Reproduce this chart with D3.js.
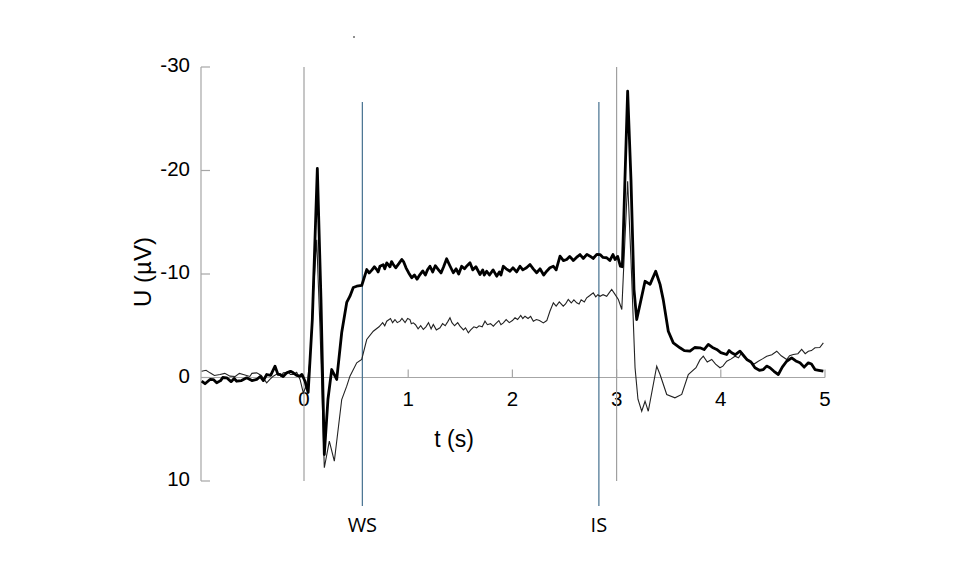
<!DOCTYPE html>
<html>
<head>
<meta charset="utf-8">
<script src="https://cdn.jsdelivr.net/npm/d3@7"></script>
<style>
  body { margin: 0; background: #fff; }
  text { font-family: "Liberation Sans", Arial, sans-serif; fill: #000; }
  .mark { font-family: "Open Sans", "Noto Sans", sans-serif; }
</style>
</head>
<body>
<svg width="958" height="577"></svg>
<script>

// thick trace: time (s) and voltage (uV)
// (the second half of each array holds the small wiggles in between, sorted by time before drawing)
var thickT = [-0.982, -0.902, -0.838, -0.742, -0.646, -0.550, -0.454, -0.358, -0.278, -0.230, -0.166, -0.103, -0.038,
  0.010, 0.040, 0.080, 0.128, 0.163, 0.195, 0.230, 0.266, 0.314, 0.362, 0.410, 0.441, 0.473, 0.506, 0.554, 0.602,
  0.653, 0.698, 0.729, 0.794, 0.857, 0.938, 0.979, 1.034, 1.113, 1.209, 1.289, 1.369, 1.433, 1.513, 1.593, 1.689,
  1.753, 1.849, 1.913, 1.977, 2.073, 2.169, 2.233, 2.329, 2.393, 2.457, 2.521, 2.649, 2.745, 2.841, 2.905, 2.965,
  3.036, 3.055, 3.080, 3.106, 3.138, 3.167, 3.193, 3.234, 3.273, 3.321, 3.375, 3.417, 3.448, 3.496, 3.544, 3.608,
  3.704, 3.800, 3.880, 3.961, 4.056, 4.104, 4.184, 4.249, 4.328, 4.408, 4.472, 4.552, 4.632, 4.680, 4.760, 4.840,
  4.904, 4.984,
  -0.95, -0.87, -0.80, -0.78, -0.70, -0.67, -0.60, -0.50, -0.42, -0.39, -0.32, -0.25, -0.20, -0.13, -0.07, -0.02,
  0.625, 0.675, 0.712, 0.760, 0.775, 0.825, 0.840, 0.880, 0.910, 0.955, 1.005, 1.060, 1.085, 1.140, 1.165, 1.185,
  1.235, 1.260, 1.315, 1.340, 1.400, 1.460, 1.485, 1.540, 1.565, 1.620, 1.650, 1.715, 1.730, 1.780, 1.815, 1.875,
  1.890, 1.940, 2.005, 2.040, 2.100, 2.135, 2.200, 2.265, 2.300, 2.360, 2.420, 2.490, 2.550, 2.585, 2.615, 2.680,
  2.715, 2.775, 2.810, 2.870, 2.935, 2.985, 3.010,
  3.65, 3.75, 3.84, 3.92, 4.00, 4.08, 4.14, 4.22, 4.29, 4.37, 4.44, 4.51, 4.59, 4.72, 4.80, 4.87, 4.94];
var thickU = [0.36, 0.19, 0.51, 0.03, 0.36, 0.03, 0.19, -0.29, -1.09, -0.29, -0.45, -0.45, -0.13,
  0.36, 1.45, -5.6, -20.2, -7.5, 7.44, 2.1, -0.77, 0.19, -4.35, -7.25, -7.86, -8.7, -8.82, -8.89, -10.43,
  -10.4, -10.43, -10.75, -11.08, -10.92, -11.4, -10.6, -9.63, -9.95, -10.75, -10.43, -11.47, -10.12, -10.75, -11.08, -9.95,
  -10.27, -9.79, -10.75, -10.27, -10.75, -10.92, -10.12, -10.27, -10.75, -11.72, -11.4, -11.88, -11.72, -11.88, -11.57, -11.88,
  -10.75, -10.7, -19.1, -27.66, -19.1, -8.5, -5.6, -7.5, -9.3, -9.0, -10.27, -9.0, -7.5, -4.47, -3.35, -2.87,
  -2.54, -2.87, -3.19, -2.71, -2.22, -2.39, -2.54, -1.74, -0.94, -0.77, -0.94, -0.29, -1.57, -1.90, -1.42, -1.42,
  -0.77, -0.61,
  0.6, 0.2, 0.3, 0.0, 0.4, 0.1, 0.3, 0.3, -0.1, 0.3, -0.2, -0.3, -0.1, -0.6, -0.2, -0.3,
  -10.1, -10.7, -10.2, -10.9, -10.5, -10.7, -11.2, -10.6, -11.0, -11.2, -10.1, -9.9, -9.5, -10.3, -9.9, -10.4,
  -10.2, -10.8, -10.1, -10.7, -10.8, -10.5, -10.0, -10.5, -10.8, -10.4, -10.7, -10.4, -9.9, -9.9, -10.4, -10.2,
  -9.9, -10.5, -10.6, -10.2, -10.4, -10.6, -10.5, -10.5, -9.9, -10.6, -10.4, -11.3, -11.7, -11.3, -11.6, -11.5,
  -11.9, -11.5, -11.9, -11.6, -11.3, -11.4, -11.7,
  -2.6, -2.9, -2.7, -2.9, -2.4, -2.6, -2.2, -2.1, -1.5, -0.7, -1.1, -0.6, -1.0, -1.6, -1.0, -1.3, -0.7];

// thin trace
var thinT = [-0.982, -0.902, -0.806, -0.710, -0.583, -0.454, -0.358, -0.295, -0.199, -0.103, -0.038, -0.007,
  0.029, 0.058, 0.086, 0.122, 0.154, 0.195, 0.243, 0.291, 0.362, 0.410, 0.441, 0.506, 0.554, 0.602, 0.665, 0.720,
  0.794, 0.873, 0.921, 1.017, 1.049, 1.145, 1.241, 1.305, 1.401, 1.497, 1.577, 1.657, 1.737, 1.817, 1.913, 2.025,
  2.121, 2.201, 2.297, 2.393, 2.488, 2.536, 2.617, 2.713, 2.776, 2.841, 2.905, 2.953, 3.017, 3.050, 3.080, 3.106,
  3.138, 3.177, 3.205, 3.241, 3.273, 3.304, 3.385, 3.417, 3.481, 3.560, 3.625, 3.688, 3.762, 3.832, 3.913, 3.992,
  4.057, 4.136, 4.201, 4.280, 4.360, 4.441, 4.537, 4.632, 4.696, 4.776, 4.840, 4.904, 4.984,
  -0.94, -0.86, -0.76, -0.66, -0.62, -0.52, -0.50, -0.41, -0.38, -0.33, -0.25, -0.22, -0.15, -0.13, -0.07,
  0.755, 0.775, 0.830, 0.850, 0.895, 0.940, 0.970, 0.995, 1.030, 1.070, 1.095, 1.120, 1.170, 1.195, 1.220, 1.270,
  1.330, 1.355, 1.380, 1.420, 1.445, 1.475, 1.530, 1.550, 1.600, 1.630, 1.680, 1.710, 1.760, 1.790, 1.840, 1.870,
  1.890, 1.940, 1.970, 2.000, 2.050, 2.080, 2.100, 2.150, 2.175, 2.230, 2.260, 2.330, 2.360, 2.420, 2.450, 2.510,
  2.565, 2.590, 2.640, 2.660, 2.690, 2.740, 2.800, 2.820, 2.870, 2.930, 2.980,
  3.80, 3.87, 3.95, 4.02, 4.10, 4.17, 4.24, 4.32, 4.40, 4.49, 4.58, 4.66, 4.74, 4.81, 4.87, 4.95];
var thinU = [-0.61, -0.45, -0.29, -0.13, -0.29, -0.45, 0.51, -0.13, -0.45, -0.29, 0.19, 1.48,
  0.68, -1.74, -7.5, -13.3, -4.6, 8.72, 6.15, 8.09, 2.13, 0.84, -0.13, -1.42, -1.74, -3.67, -4.47, -4.9,
  -5.44, -5.6, -5.44, -5.6, -5.28, -4.64, -5.12, -4.80, -5.77, -4.96, -4.32, -4.80, -5.44, -4.96, -5.28, -5.77,
  -5.92, -5.44, -5.28, -7.22, -6.89, -7.54, -7.22, -7.70, -8.18, -7.85, -7.85, -8.50, -7.54, -6.57, -13.3, -18.97,
  -11.4, -0.94, 2.1, 3.26, 2.29, 3.26, -1.09, -0.29, 1.64, 1.96, 1.64, -0.29, -0.94, -2.06, -1.74, -0.94,
  -1.57, -2.06, -2.39, -1.57, -1.57, -2.06, -2.54, -1.74, -2.22, -2.71, -2.54, -2.87, -3.35,
  -0.7, -0.2, -0.4, -0.1, -0.4, -0.1, -0.4, -0.2, 0.2, 0.2, -0.4, -0.1, -0.5, -0.3, -0.5,
  -5.3, -5.0, -5.7, -5.3, -5.3, -5.7, -5.3, -5.7, -5.2, -5.1, -4.7, -5.0, -4.9, -5.3, -4.7, -4.6,
  -5.2, -5.0, -5.4, -5.3, -5.0, -5.3, -4.6, -4.8, -4.6, -4.9, -5.0, -4.9, -5.1, -5.2, -5.2, -5.5,
  -5.1, -5.6, -5.3, -5.5, -5.6, -6.0, -5.7, -5.7, -5.9, -5.6, -5.5, -5.5, -6.4, -6.9, -7.3, -7.1,
  -7.2, -7.5, -7.1, -7.5, -7.3, -7.9, -7.8, -8.0, -8.0, -8.2, -8.1,
  -1.7, -1.5, -1.3, -1.1, -1.8, -1.9, -1.9, -1.3, -1.8, -2.2, -2.1, -2.1, -2.3, -2.3, -2.6, -2.9];

// axis ticks and markers
var xTicks = [0, 1, 2, 3, 4, 5];
var yTicks = [-30, -20, -10, 0, 10];
var stimLines = [0, 3];          // grey lines
var markers = [0.56, 2.83];      // blue lines
var markerNames = ["WS", "IS"];

var svg = d3.select("svg");

var x = d3.scaleLinear().domain([0, 5]).range([304, 825]);
var y = d3.scaleLinear().domain([-30, 10]).range([67, 481]);
var axisX = 201;

// y axis
svg.append("line")
  .attr("x1", axisX).attr("x2", axisX)
  .attr("y1", y(-30)).attr("y2", y(10))
  .attr("stroke", "#a6a6a6").attr("stroke-width", 1.2);

svg.selectAll(".ytick")
  .data(yTicks)
  .enter().append("line")
  .attr("x1", axisX).attr("x2", axisX + 9)
  .attr("y1", function(d) { return y(d); })
  .attr("y2", function(d) { return y(d); })
  .attr("stroke", "#a6a6a6").attr("stroke-width", 1.2);

svg.selectAll(".ylab")
  .data(yTicks)
  .enter().append("text")
  .attr("x", 190)
  .attr("y", function(d) { return y(d) + 5; })
  .attr("text-anchor", "end")
  .attr("font-size", 20.5)
  .text(function(d) { return d; });

// x axis along zero
svg.append("line")
  .attr("x1", axisX).attr("x2", x(5))
  .attr("y1", y(0)).attr("y2", y(0))
  .attr("stroke", "#a6a6a6").attr("stroke-width", 1.2);

svg.selectAll(".xtick")
  .data(xTicks.slice(1))
  .enter().append("line")
  .attr("x1", function(d) { return x(d); })
  .attr("x2", function(d) { return x(d); })
  .attr("y1", y(0)).attr("y2", y(0) - 8)
  .attr("stroke", "#a6a6a6").attr("stroke-width", 1.2);

svg.selectAll(".xlab")
  .data(xTicks)
  .enter().append("text")
  .attr("x", function(d) { return x(d); })
  .attr("y", 406)
  .attr("text-anchor", "middle")
  .attr("font-size", 20.5)
  .text(function(d) { return d; });

svg.append("text")
  .attr("x", 454).attr("y", 447)
  .attr("text-anchor", "middle")
  .attr("font-size", 23)
  .text("t (s)");

svg.append("text")
  .attr("transform", "translate(151,272) rotate(-90)")
  .attr("text-anchor", "middle")
  .attr("font-size", 24)
  .text("U (\u00b5V)");

// grey stimulus lines
svg.selectAll(".stim")
  .data(stimLines)
  .enter().append("line")
  .attr("x1", function(d) { return x(d); })
  .attr("x2", function(d) { return x(d); })
  .attr("y1", y(-30)).attr("y2", y(10))
  .attr("stroke", "#a0a0a0").attr("stroke-width", 1.2);

// blue marker lines with labels
svg.selectAll(".marker")
  .data(markers)
  .enter().append("line")
  .attr("x1", function(d) { return x(d); })
  .attr("x2", function(d) { return x(d); })
  .attr("y1", 102).attr("y2", 506)
  .attr("stroke", "#45708f").attr("stroke-width", 1.2);

svg.selectAll(".mlab")
  .data(markers)
  .enter().append("text")
  .attr("class", "mark")
  .attr("x", function(d) { return x(d); })
  .attr("y", 532)
  .attr("text-anchor", "middle")
  .attr("font-size", 20)
  .text(function(d, i) { return markerNames[i]; });

// the two traces
var line = d3.line()
  .x(function(d) { return x(d[0]); })
  .y(function(d) { return y(d[1]); });

function byTime(a, b) { return a[0] - b[0]; }

svg.append("path")
  .datum(d3.zip(thinT, thinU).sort(byTime))
  .attr("d", line)
  .attr("fill", "none")
  .attr("stroke", "#222")
  .attr("stroke-width", 1.1);

svg.append("path")
  .datum(d3.zip(thickT, thickU).sort(byTime))
  .attr("d", line)
  .attr("fill", "none")
  .attr("stroke", "#000")
  .attr("stroke-width", 2.8)
  .attr("stroke-linejoin", "round");

// small speck at the top of the figure
svg.append("circle").attr("cx", 354).attr("cy", 37).attr("r", 0.8).attr("fill", "#000");

</script>
</body>
</html>
